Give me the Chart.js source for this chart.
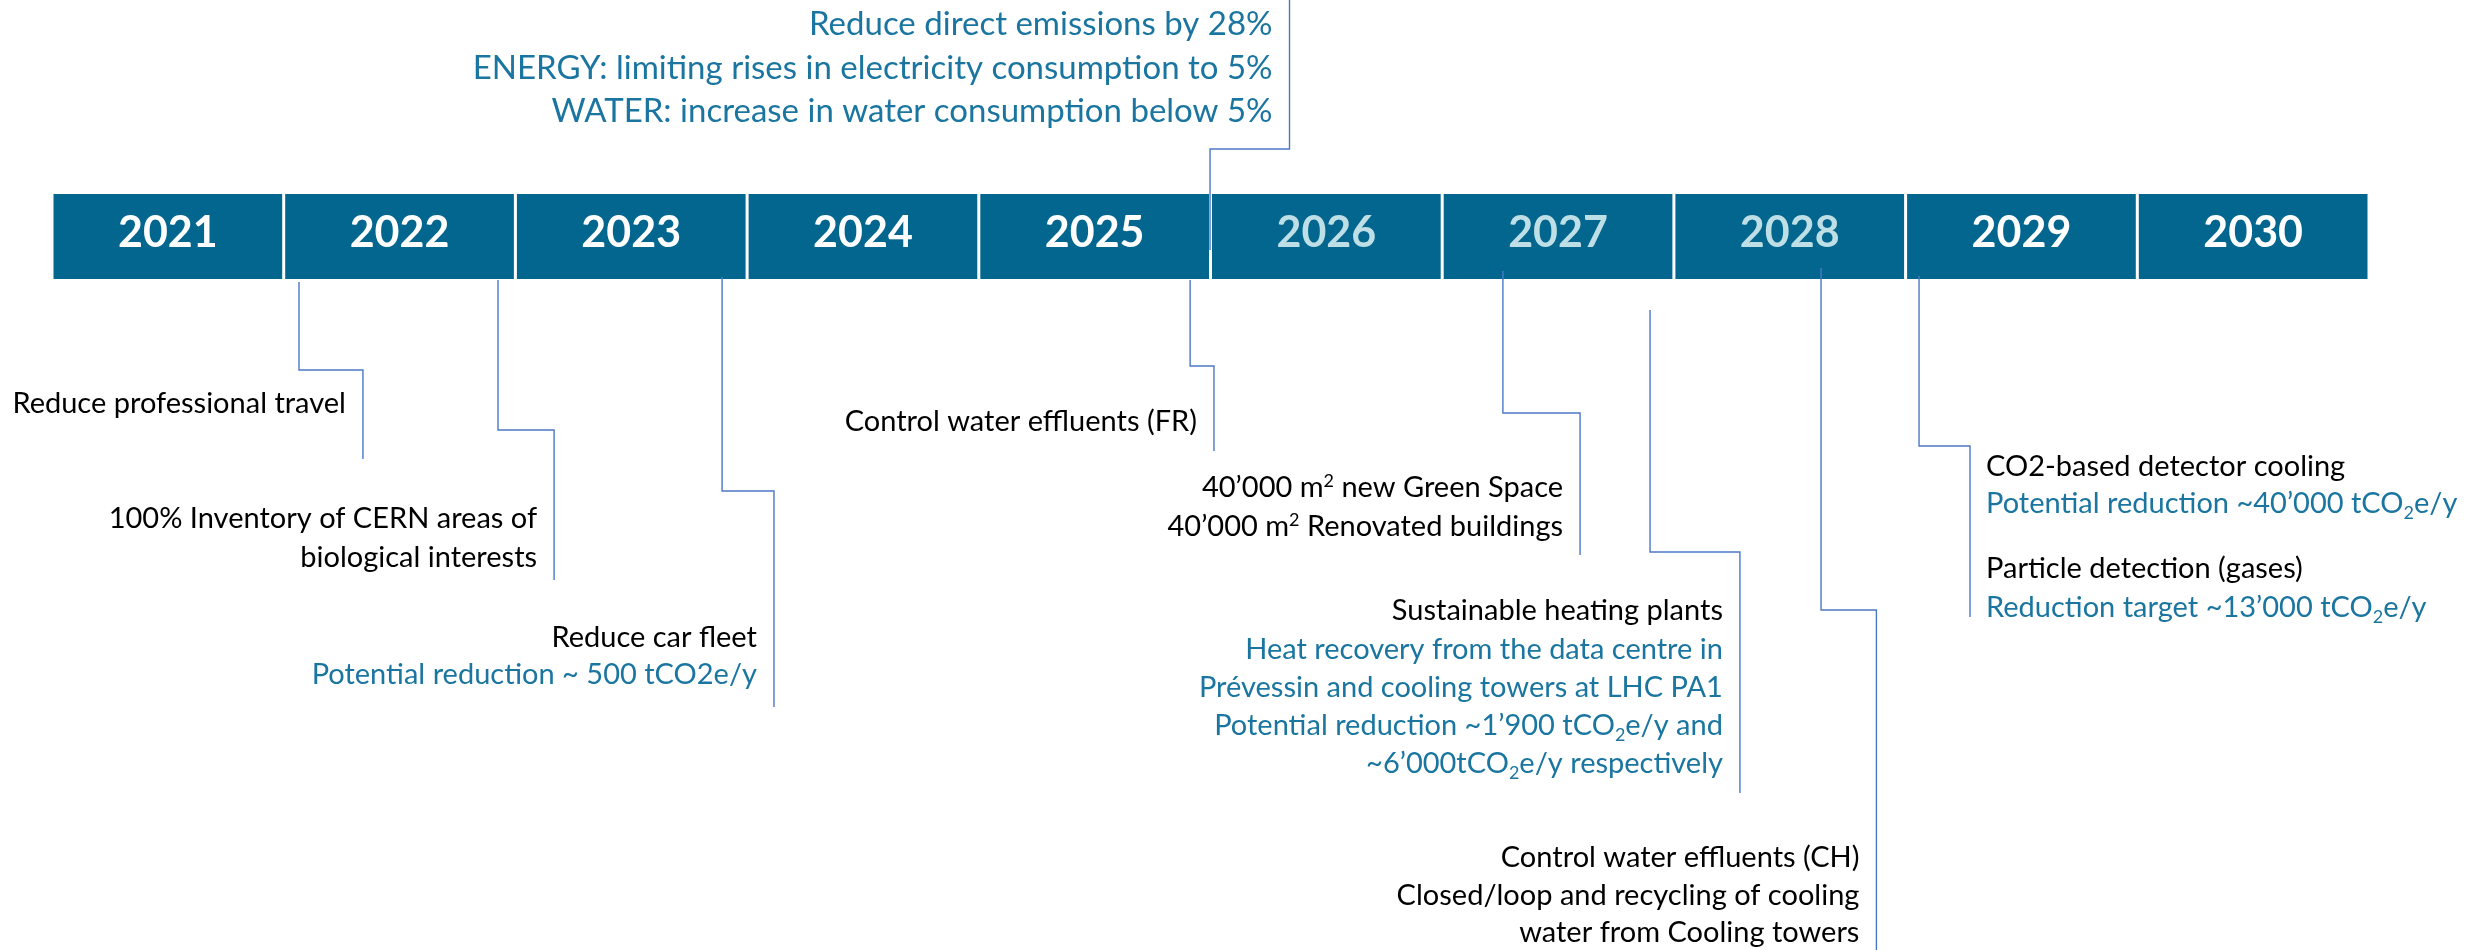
<!DOCTYPE html>
<html>
<head>
<meta charset="utf-8">
<script src="https://cdn.jsdelivr.net/npm/chart.js@4.4.1/dist/chart.umd.min.js"></script>
<style>
  html, body { margin: 0; padding: 0; background: #fff; }
  canvas { display: block; }
</style>
</head>
<body>
<canvas id="timeline" width="2471" height="950"></canvas>
<script>
// timeline years, one box each
const years = [2021, 2022, 2023, 2024, 2025, 2026, 2027, 2028, 2029, 2030]
const greyedYears = [2026, 2027, 2028]

// each milestone: where its leader leaves the bar and where it reaches the text (in years)
const milestoneFrom = [2021.566, 2022.425, 2023.392, 2025.412, 2025.498, 2026.762, 2027.397, 2028.135, 2028.558]
const milestoneTo = [2021.842, 2022.667, 2023.616, 2025.515, 2025.841, 2027.095, 2027.785, 2028.374, 2028.778]

// text of each milestone; _{ } subscript, ^{ } superscript
const milestoneText = [
  ["Reduce professional travel"],
  ["100% Inventory of CERN areas of", "biological interests"],
  ["Reduce car fleet", "Potential reduction ~ 500 tCO2e/y"],
  ["Control water effluents (FR)"],
  ["Reduce direct emissions by 28%", "ENERGY: limiting rises in electricity consumption to 5%", "WATER: increase in water consumption below 5%"],
  ["40’000 m^{2} new Green Space", "40’000 m^{2} Renovated buildings"],
  ["Sustainable heating plants", "Heat recovery from the data centre in", "Prévessin and cooling towers at LHC PA1", "Potential reduction ~1’900 tCO_{2}e/y and", "~6’000tCO_{2}e/y respectively"],
  ["Control water effluents (CH)", "Closed/loop and recycling of cooling", "water from Cooling towers"],
  ["CO2-based detector cooling", "Potential reduction ~40’000 tCO_{2}e/y", "Particle detection (gases)", "Reduction target ~13’000 tCO_{2}e/y"]
]
// a = action, t = target
const milestoneKind = [
  ["a"], ["a", "a"], ["a", "t"], ["a"], ["t", "t", "t"], ["a", "a"],
  ["a", "t", "t", "t", "t"], ["a", "a", "a"], ["a", "t", "a", "t"]
]

// layout (pixel rows, y axis is 0..950 from the top)
const BAR = [194, 279]
const leaderRows = [[282, 370, 459], [280, 430, 580], [277, 491, 707], [280, 366, 451], [250, 149, 0],
  [271, 413, 555], [310, 552, 793], [268, 610, 950], [276, 446, 617]]
const textRows = [[413], [528, 567], [647, 684], [431], [35, 79, 122], [497, 536],
  [620, 659, 697, 735, 773], [867, 905, 942], [476, 513, 578, 617]]
const textSide = ["l", "l", "l", "l", "l", "l", "l", "l", "r"]
const textSize = [29, 29, 29, 29, 33, 29, 29, 29, 29]

const BAR_COLOR = "#03668f"
const TARGET_COLOR = "#1a76a0"
const LEADER_COLOR = "#4c77c9"
const FONT = "Lato"

function drawRich(ctx, str, x, y, size, align) {
  const segs = str.split(/(_\{[^}]*\}|\^\{[^}]*\})/).filter(s => s).map(p => {
    if (p.startsWith("_{")) return { t: p.slice(2, -1), s: size * 0.62, dy: size * 0.22 }
    if (p.startsWith("^{")) return { t: p.slice(2, -1), s: size * 0.62, dy: -size * 0.36 }
    return { t: p, s: size, dy: 0 }
  })
  let w = 0
  segs.forEach(sg => {
    ctx.font = sg.s + "px " + FONT
    sg.w = ctx.measureText(sg.t).width
    w += sg.w
  })
  let cx = align === "right" ? x - w : x
  ctx.textAlign = "left"
  segs.forEach(sg => {
    ctx.font = sg.s + "px " + FONT
    ctx.fillText(sg.t, cx, y + sg.dy)
    cx += sg.w
  })
}

const timelineText = {
  id: "timelineText",
  afterDatasetsDraw(chart) {
    const { ctx, scales: { x } } = chart
    ctx.save()
    // year labels inside the boxes
    const meta = chart.getDatasetMeta(0)
    ctx.font = "bold 43px " + FONT
    ctx.textAlign = "center"
    ctx.textBaseline = "alphabetic"
    meta.data.forEach((bar, i) => {
      ctx.fillStyle = greyedYears.includes(years[i]) ? "#bfdfe6" : "#ffffff"
      ctx.fillText(String(years[i]), bar.x, Math.max(bar.y, bar.base) - 32)
    })
    // milestone texts
    milestoneText.forEach((lines, m) => {
      const px = x.getPixelForValue(milestoneTo[m])
      const right = textSide[m] === "l"
      const ax = right ? px - 17 : px + 16
      lines.forEach((line, k) => {
        ctx.fillStyle = milestoneKind[m][k] === "t" ? TARGET_COLOR : "#000000"
        drawRich(ctx, line, ax, textRows[m][k], textSize[m], right ? "right" : "left")
      })
    })
    ctx.restore()
  }
}

const leaderSets = milestoneFrom.map((from, m) => ({
  type: "line",
  order: 1,
  data: [
    { x: from, y: leaderRows[m][0] },
    { x: from, y: leaderRows[m][1] },
    { x: milestoneTo[m], y: leaderRows[m][1] },
    { x: milestoneTo[m], y: leaderRows[m][2] }
  ],
  borderColor: LEADER_COLOR,
  borderWidth: 1.4,
  pointRadius: 0,
  tension: 0,
  fill: false,
  clip: false
}))

new Chart(document.getElementById("timeline"), {
  type: "bar",
  data: {
    datasets: [{
      type: "bar",
      order: 2,
      data: years.map(y => ({ x: y, y: BAR })),
      backgroundColor: BAR_COLOR,
      borderWidth: 0,
      barPercentage: 0.987,
      categoryPercentage: 1
    }, ...leaderSets]
  },
  options: {
    responsive: false,
    devicePixelRatio: 1,
    animation: false,
    layout: { padding: 0 },
    plugins: { legend: { display: false }, tooltip: { enabled: false } },
    scales: {
      x: {
        type: "linear", display: false, offset: false, min: 2020.2756, max: 2030.9402,
        // one tick per year so the bars fill a whole year
        afterBuildTicks: s => { s.ticks = years.map(v => ({ value: v })) }
      },
      y: { type: "linear", display: false, reverse: true, min: 0, max: 950 }
    }
  },
  plugins: [timelineText]
})
</script>
</body>
</html>
